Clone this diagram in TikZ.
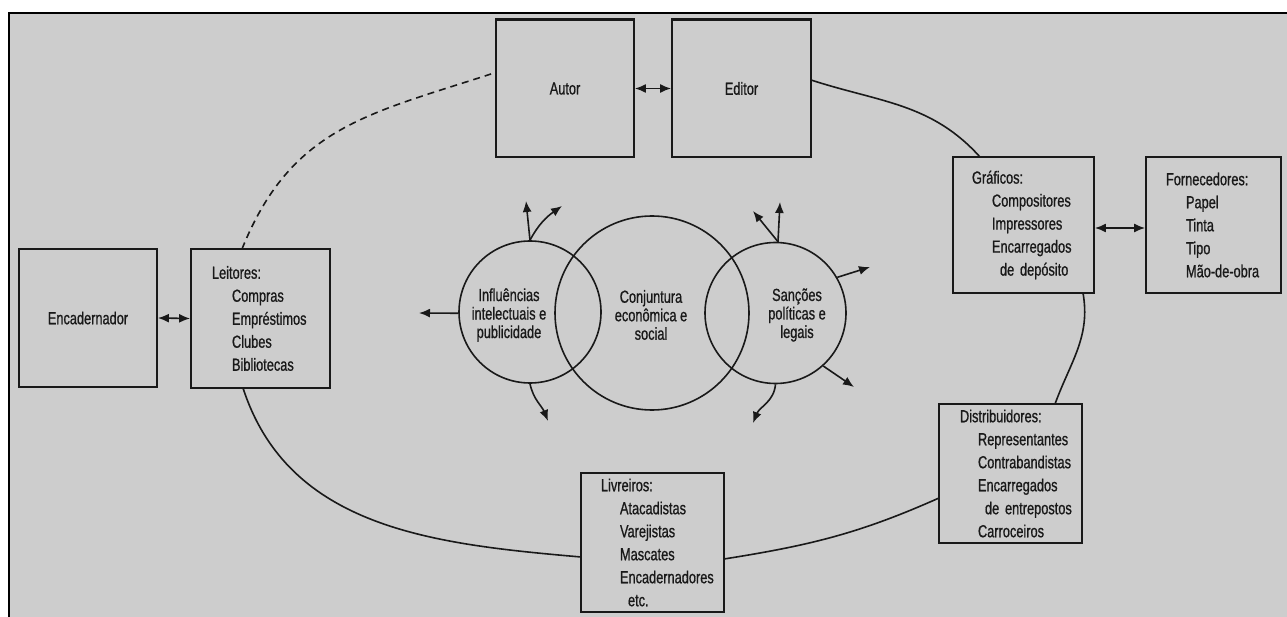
\documentclass[tikz,border=0pt]{standalone}
\usepackage{fontspec}
\setmainfont{Liberation Sans}[FakeStretch=0.73,FakeBold=0.8]
\usetikzlibrary{arrows.meta,calc}
\definecolor{paper}{RGB}{205,205,205}
\definecolor{ink}{RGB}{25,25,25}
\hyphenpenalty=10000
\exhyphenpenalty=10000
\hbadness=10000
\hfuzz=100pt
\begin{document}
\begin{tikzpicture}[x=1pt,y=-1pt,
  font=\fontsize{17.5}{23}\selectfont, text=ink,
  box/.style={draw=ink, line width=1.8pt, rectangle, inner ysep=0pt, inner xsep=0pt, align=left},
  ring/.style={draw=ink, line width=1.6pt, circle, inner sep=0pt},
  ctext/.style={align=center, inner sep=0pt, font=\fontsize{17.5}{18.5}\selectfont},
  link/.style={draw=ink, line width=1.6pt},
  tip/.tip={Latex[length=11pt,width=9pt]},
  dlink/.style={link, tip-tip},
  outarrow/.style={link, -tip}]
\useasboundingbox (0,0) rectangle (1287,617);
\fill[white] (0,0) rectangle (1287,617);
\fill[paper] (9,13) rectangle (1287,617);
\draw[black, line width=2.6pt] (9,617) -- (9,13) -- (1287,13);

% boxes
\node[box, align=center, minimum width=138pt, minimum height=138pt] (enc) at (88,318) {Encadernador};
\node[box, text width=97pt, inner xsep=21pt, minimum height=139pt] (leit) at (260.5,318.5)
  {Leitores:\\\hspace*{20pt}Compras\\\hspace*{20pt}Empréstimos\\\hspace*{20pt}Clubes\\\hspace*{20pt}Bibliotecas};
\node[box, align=center, minimum width=138pt, minimum height=137pt] (autor) at (565,88.5) {Autor};
\node[box, align=center, minimum width=139pt, minimum height=137pt] (editor) at (741.5,88.5) {Editor};
\node[box, text width=103pt, inner xsep=19pt, minimum height=136pt] (graf) at (1023.5,225)
  {Gráficos:\\\hspace*{20pt}Compositores\\\hspace*{20pt}Impressores\\\hspace*{20pt}Encarregados\\\hspace*{28pt}de~depósito};
\node[box, text width=95pt, inner xsep=20pt, minimum height=136pt] (forn) at (1213.5,225)
  {Fornecedores:\\\hspace*{20pt}Papel\\\hspace*{20pt}Tinta\\\hspace*{20pt}Tipo\\\hspace*{20pt}Mão-de-obra};
\node[box, text width=101pt, inner xsep=21pt, minimum height=139pt] (dist) at (1010.5,473.5)
  {Distribuidores:\\\hspace*{18pt}Representantes\\\hspace*{18pt}Contrabandistas\\\hspace*{18pt}Encarregados\\\hspace*{25pt}de~entrepostos\\\hspace*{18pt}Carroceiros};
\node[box, text width=103pt, inner xsep=20pt, minimum height=139pt] (livr) at (652.5,542.5)
  {Livreiros:\\\hspace*{19pt}Atacadistas\\\hspace*{19pt}Varejistas\\\hspace*{19pt}Mascates\\\hspace*{19pt}Encadernadores\\\hspace*{27pt}etc.};
\draw[ink, line width=2.6pt] (autor.north west) -- (autor.north east);
\draw[ink, line width=2.6pt] (editor.north west) -- (editor.north east);

% double arrows
\draw[dlink] (enc.east) -- (leit.west);
\draw[dlink] (autor.east) -- (editor.west);
\draw[dlink] ([yshift=-3pt]graf.east) -- ([yshift=-3pt]forn.west);

% circles
\node[ring, minimum size=142pt] (cl) at (530,312) {};
\node[ring, minimum size=194pt] (cm) at (652,313) {};
\node[ring, minimum size=141pt] (cr) at (775.5,313) {};
\node[ctext] (tl) at (509,315) {Influências\\intelectuais e\\publicidade};
\node[ctext] (tm) at (651,315) {Conjuntura\\econômica e\\social};
\node[ctext] (tr) at (797,315) {Sanções\\políticas e\\legais};

% arrows from circles
\coordinate (al1) at (526,201);
\coordinate (al2) at (562,206);
\coordinate (al3) at (419,313);
\coordinate (al4) at (548,421);
\draw[outarrow] (cl.90) -- (al1);
\draw[outarrow] (cl.90) to[out=62,in=215] (al2);
\draw[outarrow] (cl.181) -- (al3);
\draw[outarrow] (cl.south) to[out=-78,in=112] (al4);
\coordinate (ar1) at (780,202);
\coordinate (ar2) at (753,211);
\coordinate (ar3) at (870,267);
\coordinate (ar4) at (854,387);
\coordinate (ar5) at (753,423);
\draw[outarrow] (cr.88) -- (ar1);
\draw[outarrow] (cr.88) -- (ar2);
\draw[outarrow] (cr.30) -- (ar3);
\draw[outarrow] (cr.-48) -- (ar4);
\draw[outarrow] (cr.south) to[out=-95,in=68] (ar5);

% the big cycle
\coordinate (e1) at (242,249);
\coordinate (e2) at (491,74);
\coordinate (e3) at (811,80);
\coordinate (e4) at (980,157);
\coordinate (e5) at (1083,293);
\coordinate (e6) at (1055,404);
\coordinate (e7) at (939,498);
\coordinate (e8) at (724,559);
\coordinate (e9) at (581,557);
\coordinate (e10) at (243,388);
\draw[link, dash pattern=on 7pt off 5pt] (e1) to[out=68,in=198,looseness=1.1] (e2);
\draw[link] (e3) to[out=-18,in=132] (e4);
\draw[link] (e5) to[out=-80,in=70] (e6);
\draw[link] (e7) to[out=204,in=9] (e8);
\draw[link] (e10) to[out=-72,in=175] (e9);
\end{tikzpicture}
\end{document}
